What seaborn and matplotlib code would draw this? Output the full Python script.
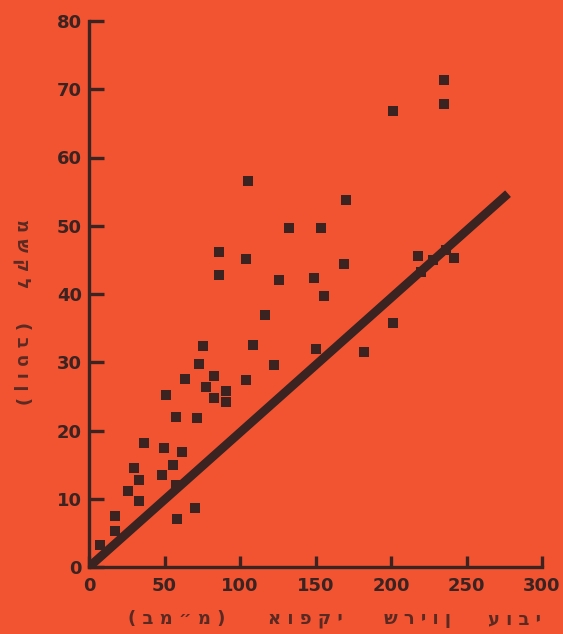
import matplotlib
matplotlib.use("Agg")
import matplotlib.pyplot as plt
import seaborn as sns
import pandas as pd

# ---- data ----
armor_mm = [235, 235, 201.5, 105.6, 170.5, 132.5, 153.4, 86, 86, 104.2,
            125.8, 149.1, 168.6, 155.6, 217.6, 219.8, 241.4, 228, 236.5, 116.3,
            108.7, 201, 150.3, 182.4, 122.5, 104.2, 75.4, 73.1, 82.8, 63.7,
            77.3, 82.8, 90.9, 90.9, 50.9, 57.5, 71.4, 36.1, 49.9, 61.6,
            55.9, 29.5, 33.3, 25.5, 33.3, 48.5, 57.5, 69.9, 58.3, 17.1,
            17.1, 7.6]
weight_t = [71.4, 67.8, 66.8, 56.5, 53.7, 49.6, 49.6, 46.1, 42.8, 45.1,
            42.0, 42.4, 44.4, 39.7, 45.6, 43.2, 45.3, 45.0, 46.5, 36.9,
            32.5, 35.8, 31.9, 31.5, 29.6, 27.4, 32.4, 29.8, 28.0, 27.5,
            26.4, 24.7, 25.8, 24.2, 25.2, 22.0, 21.8, 18.1, 17.5, 16.8,
            15.0, 14.5, 12.7, 11.1, 9.6, 13.5, 12.0, 8.7, 7.0, 7.5,
            5.3, 3.2]
trend_x = [0, 277.5]
trend_y = [0, 54.7]
x_ticks = [0, 50, 100, 150, 200, 250, 300]
y_ticks = [0, 10, 20, 30, 40, 50, 60, 70, 80]
# axis titles, word by word as they appear (left to right / top to bottom)
x_label_words = ["( ב מ ״ מ )", "א ו פ ק י", "ש ר י ו ן", "ע ו ב י"]
y_label_words = ["מ ש ק ל", "( ב ט ו ן )"]

BG = "#F25432"
INK = "#3a2320"
LABEL_INK = "#5a2a22"

sns.set_style("ticks")
plt.rcParams['font.family'] = ['DejaVu Sans']

fig = plt.figure(figsize=(5.63, 6.34), dpi=100, facecolor=BG)
ax = fig.add_axes([89/563, 67/634, 453/563, 546/634])
ax.set_facecolor(BG)

df = pd.DataFrame({"x": armor_mm, "y": weight_t})
line_df = pd.DataFrame({"x": trend_x, "y": trend_y})

sns.lineplot(data=line_df, x="x", y="y", ax=ax, color=INK, linewidth=6.3,
             solid_capstyle="butt", zorder=2)
sns.scatterplot(data=df, x="x", y="y", ax=ax, marker="s", s=44, color=INK,
                edgecolor=INK, linewidth=0, zorder=3, clip_on=False)

ax.set_xlim(0, 300)
ax.set_ylim(0, 80)
ax.set_xticks(x_ticks)
ax.set_yticks(y_ticks)
ax.set_xlabel("")
ax.set_ylabel("")

for s in ["top", "right"]:
    ax.spines[s].set_visible(False)
for s in ["left", "bottom"]:
    ax.spines[s].set_linewidth(2.4)
    ax.spines[s].set_color(INK)

ax.tick_params(axis="y", direction="in", length=10.5, width=2.4, color=INK,
               labelsize=13, labelcolor=INK, pad=5)
ax.tick_params(axis="x", direction="in", length=8, width=2.4, color=INK,
               labelsize=13, labelcolor=INK, pad=7)
for lab in ax.get_xticklabels() + ax.get_yticklabels():
    lab.set_fontweight("bold")

x_word_centers = [177, 305, 418, 515]
for word, cx in zip(x_label_words, x_word_centers):
    fig.text(cx/563, 1 - 619/634, word, ha="center", va="center",
             fontsize=13, fontweight="bold", color=LABEL_INK)
y_word_centers = [254, 364]
for word, cy in zip(y_label_words, y_word_centers):
    fig.text(22/563, 1 - cy/634, word, ha="center", va="center",
             rotation=-90, fontsize=13, fontweight="bold", color=LABEL_INK)

fig.savefig("out.png", dpi=100, facecolor=BG)
